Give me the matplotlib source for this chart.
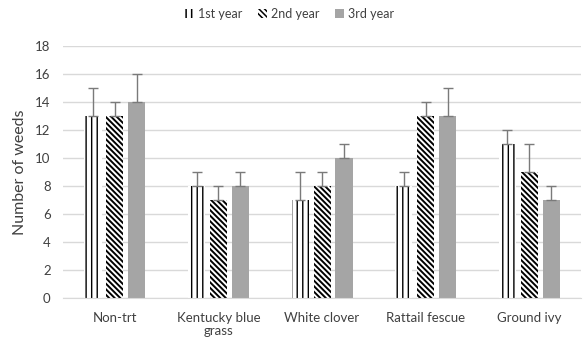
import matplotlib
matplotlib.use("Agg")
import matplotlib.pyplot as plt
import numpy as np

categories = ["Non-trt", "Kentucky blue\ngrass", "White clover", "Rattail fescue", "Ground ivy"]
series_names = ["1st year", "2nd year", "3rd year"]
year1 = [13, 8, 7, 8, 11]
year2 = [13, 7, 8, 13, 9]
year3 = [14, 8, 10, 13, 7]
err1 = [2, 1, 2, 1, 1]
err2 = [1, 1, 1, 1, 2]
err3 = [2, 1, 1, 2, 1]
yticks = list(range(0, 19, 2))

plt.rcParams['font.family'] = ['Lato', 'DejaVu Sans']
plt.rcParams['hatch.linewidth'] = 1.1

fig = plt.figure(figsize=(5.85, 3.47), dpi=100)
ax = fig.add_axes([0.108, 0.141, 0.885, 0.726])

x = np.arange(len(categories))
w = 0.165
step = 0.212
styles = [
    dict(facecolor="white", edgecolor="black", hatch="|||", linewidth=0),
    dict(facecolor="white", edgecolor="black", hatch="\\" * 6, linewidth=0),
    dict(facecolor="#a5a5a5", edgecolor="#a5a5a5", linewidth=0),
]
hlw = [1.0, 1.4, 1.0]
data = [year1, year2, year3]
errs = [err1, err2, err3]
handles = []
for i in range(3):
    pos = x + (i - 1) * step
    b = ax.bar(pos, data[i], w, label=series_names[i], zorder=2, **styles[i])
    for p in b.patches:
        try:
            p.set_hatch_linewidth(hlw[i])
        except Exception:
            pass
    handles.append(b)
    ax.errorbar(pos, data[i], yerr=[np.zeros(len(errs[i])), errs[i]], fmt="none",
                ecolor="#7a7a7a", elinewidth=1, capsize=3.5, capthick=1, zorder=3)

ax.set_xlim(-0.5, len(categories) - 0.5)
ax.set_ylim(0, 18)
ax.set_yticks(yticks)
ax.yaxis.grid(True, color="#d9d9d9", linewidth=1, zorder=0)
ax.set_axisbelow(True)
for s in ["top", "right", "left"]:
    ax.spines[s].set_visible(False)
ax.spines["bottom"].set_color("#d9d9d9")
ax.tick_params(axis="both", length=0, labelsize=9.5, colors="#404040")
ax.tick_params(axis="y", pad=9)
ax.tick_params(axis="x", pad=10)
ax.set_xticks(x)
ax.set_xticklabels(categories, linespacing=1.1)
ax.set_ylabel("Number of weeds", fontsize=11.5, color="#404040", labelpad=6)

fig.legend(handles=handles, labels=series_names, loc="upper center", bbox_to_anchor=(0.495, 1.01),
           ncol=3, frameon=False, fontsize=9, handlelength=0.7, handleheight=0.7,
           handletextpad=0.3, columnspacing=1.3, labelcolor="#404040")

fig.savefig("out.png", dpi=100)
